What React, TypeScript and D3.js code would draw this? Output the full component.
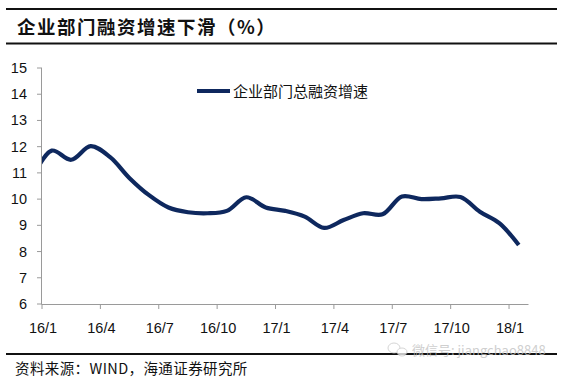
import React from "react";
import * as d3 from "d3";

const months = ["15/12","16/1","16/2","16/3","16/4","16/5","16/6","16/7","16/8","16/9","16/10","16/11","16/12","17/1","17/2","17/3","17/4","17/5","17/6","17/7","17/8","17/9","17/10","17/11","17/12","18/1"];
const growth = [10.8,11.85,11.5,12.02,11.6,10.8,10.15,9.68,9.5,9.46,9.55,10.07,9.68,9.55,9.33,8.9,9.2,9.46,9.42,10.1,10.0,10.03,10.08,9.52,9.08,8.25];
const tickLabels = ["16/1","16/4","16/7","16/10","17/1","17/4","17/7","17/10","18/1"];
const yTicks = [6,7,8,9,10,11,12,13,14,15];
const title = "企业部门融资增速下滑（%）";
const legendLabel = "企业部门总融资增速";
const source = "资料来源：WIND，海通证券研究所";
const watermark = "微信号: jiangchao8848";

const W = 570, H = 378;
const left = 42, right = 528.5, top = 68, bottom = 304;

export default function App() {
  const x = d3.scaleLinear().domain([0, 25]).range([left, right]);
  const y = d3.scaleLinear().domain([6, 15]).range([bottom, top]);
  const pts: [number, number][] = growth.map((v, i) => [x(i - 1 + 0.5), y(v)]);
  const line = d3.line().curve(d3.curveCatmullRom.alpha(0.5))(pts) || "";
  const axisColor = "#9a9a9a";
  const font = "'Liberation Sans', Arial, sans-serif";
  const cjk = "'Noto Sans CJK SC', sans-serif";
  return (
    <svg width={W} height={H} style={{ position: "absolute", left: 0, top: 0, background: "#fff" }}>
      <defs>
        <clipPath id="plotclip">
          <rect x={left} y={0} width={right - left + 10} height={H} />
        </clipPath>
      </defs>
      <line x1={6} x2={557} y1={9} y2={9} stroke="#111" strokeWidth={2} />
      <text x={17} y={34} fontFamily={cjk} fontWeight={700} fontSize={18.5} letterSpacing={1.5} fill="#111">{title}</text>
      <line x1={6} x2={557} y1={43.5} y2={43.5} stroke="#111" strokeWidth={2} />

      {/* y axis */}
      <line x1={left - 0.5} x2={left - 0.5} y1={top} y2={bottom} stroke={axisColor} strokeWidth={1} />
      {yTicks.map((t) => (
        <g key={t}>
          <line x1={left - 5} x2={left} y1={y(t)} y2={y(t)} stroke={axisColor} strokeWidth={1} />
          <text x={27} y={y(t) + 5} textAnchor="end" fontFamily={font} fontSize={14.5} fill="#111">{t}</text>
        </g>
      ))}

      {/* x axis */}
      <line x1={left - 0.5} x2={right} y1={bottom + 0.5} y2={bottom + 0.5} stroke={axisColor} strokeWidth={1} />
      {tickLabels.map((t, i) => (
        <g key={t}>
          <line x1={x(i * 3)} x2={x(i * 3)} y1={bottom} y2={bottom + 5} stroke={axisColor} strokeWidth={1} />
          <text x={x(i * 3) + 1} y={333} textAnchor="middle" fontFamily={font} fontSize={14.5} fill="#111">{t}</text>
        </g>
      ))}

      <path d={line} fill="none" stroke="#0e285e" strokeWidth={4.2} strokeLinejoin="round" clipPath="url(#plotclip)" />

      {/* legend */}
      <line x1={197} x2={230} y1={91} y2={91} stroke="#0e285e" strokeWidth={4.2} />
      <text x={233} y={96.5} fontFamily={cjk} fontSize={15} fill="#111">{legendLabel}</text>

      {/* footer */}
      <line x1={6} x2={557} y1={354} y2={354} stroke="#111" strokeWidth={2} />
      <text x={15} y={374} fontFamily={cjk} fontSize={14.5} letterSpacing={0.4} fill="#111">{source}</text>
      <g opacity={0.75}>
        <ellipse cx={394} cy={348} rx={6} ry={5} fill="#fff" stroke="#c8c8c8" />
        <ellipse cx={402} cy={352} rx={5} ry={4} fill="#fff" stroke="#c8c8c8" />
        <text x={412} y={355} fontFamily={cjk} fontSize={13} fill="#c0c0c0">{watermark}</text>
      </g>
    </svg>
  );
}
